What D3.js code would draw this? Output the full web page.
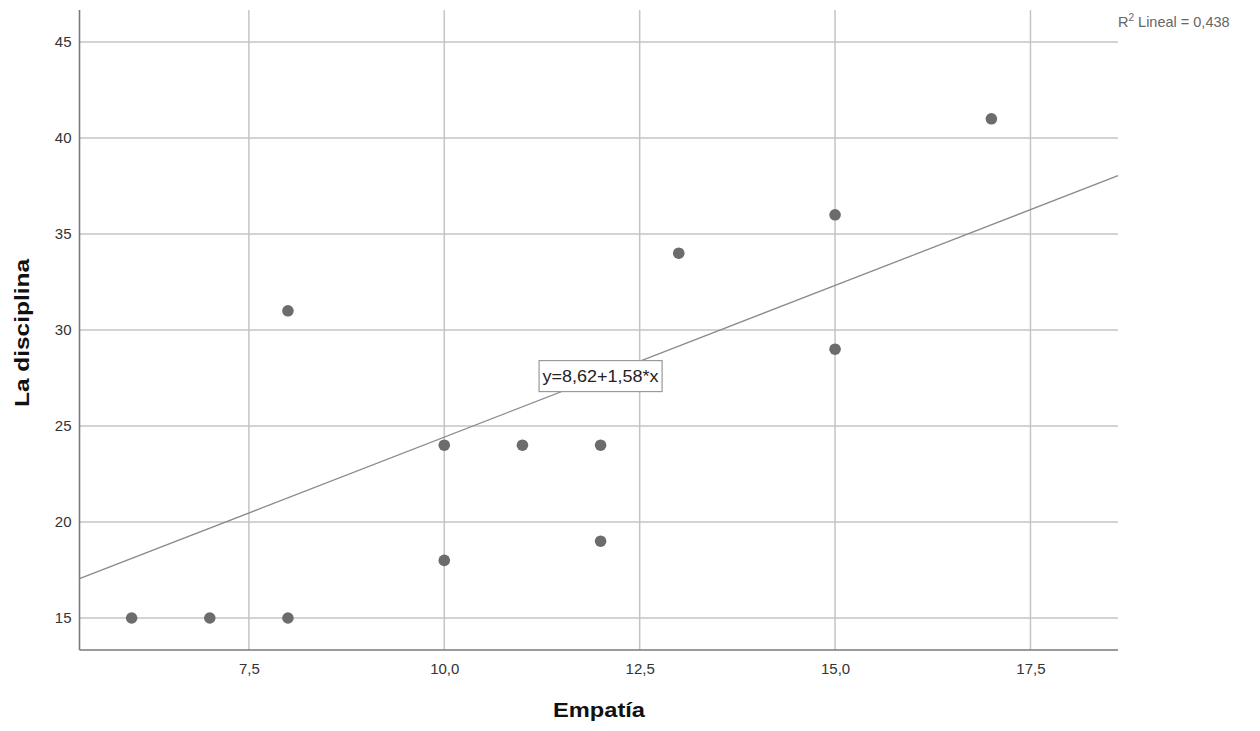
<!DOCTYPE html>
<html><head><meta charset="utf-8">
<script src="https://cdn.jsdelivr.net/npm/d3@7"></script>
<style>body{margin:0;background:#fff;} text{font-family:Arial,"Liberation Sans",sans-serif;}</style>
</head><body><svg id="c" width="1260" height="731"></svg>
<script>
const empatia =    [6, 7, 8, 8, 10, 10, 11, 12, 12, 13, 15, 15, 17];
const disciplina = [15,15,15,31, 24, 18, 24, 24, 19, 34, 36, 29, 41];
const xTicks = [7.5, 10, 12.5, 15, 17.5];
const yTicks = [15, 20, 25, 30, 35, 40, 45];
const intercept = 8.62, slope = 1.58;
const r2Text = "0,438";
const eqText = "y=8,62+1,58*x";

const svg = d3.select("#c");
const L = 79.5, R = 1118, T = 10, B = 650;
const x = d3.scaleLinear().domain([5.333, 18.62]).range([L, R]);
const y = d3.scaleLinear().domain([13.333, 46.667]).range([B, T]);
const fmt = v => d3.format(".1f")(v).replace(".", ",");

// grid
svg.append("g").selectAll("line").data(yTicks).join("line")
  .attr("x1", L).attr("x2", R).attr("y1", d => y(d)).attr("y2", d => y(d))
  .attr("stroke", "#c4c4c4").attr("stroke-width", 1.5);
svg.append("g").selectAll("line").data(xTicks).join("line")
  .attr("y1", T).attr("y2", B).attr("x1", d => x(d)).attr("x2", d => x(d))
  .attr("stroke", "#c4c4c4").attr("stroke-width", 1.5);

// axes
const xa = svg.append("g").attr("transform", `translate(0,${B})`)
  .call(d3.axisBottom(x).tickValues(xTicks).tickSize(0).tickPadding(13).tickFormat(fmt));
const ya = svg.append("g").attr("transform", `translate(${L},0)`)
  .call(d3.axisLeft(y).tickValues(yTicks).tickSize(0).tickPadding(8).tickFormat(d3.format("d")));
[xa, ya].forEach(a => {
  a.select(".domain").attr("stroke", "#7a7a7a").attr("stroke-width", 1.6);
  a.selectAll("text").attr("font-size", 15).attr("fill", "#333").attr("font-family", "Arial, 'Liberation Sans', sans-serif");
});
ya.select(".domain").attr("d", `M0,${T}V${B}`);
xa.select(".domain").attr("d", `M${L},0H${R}`);

// fit line
svg.append("line")
  .attr("x1", x(x.domain()[0])).attr("y1", y(intercept + slope * x.domain()[0]))
  .attr("x2", x(x.domain()[1])).attr("y2", y(intercept + slope * x.domain()[1]))
  .attr("stroke", "#8a8a8a").attr("stroke-width", 1.3);

// points
svg.append("g").selectAll("circle").data(empatia.map((e, i) => [e, disciplina[i]])).join("circle")
  .attr("cx", d => x(d[0])).attr("cy", d => y(d[1])).attr("r", 5.8)
  .attr("fill", "#6c6c6c");

// equation label
const eq = svg.append("g").attr("transform", `translate(${x(12.0)},${y(27.6)})`);
eq.append("rect").attr("x", -61.5).attr("y", -15.5).attr("width", 123).attr("height", 31)
  .attr("fill", "#fff").attr("stroke", "#999").attr("stroke-width", 1.2);
eq.append("text").attr("x", 0).attr("y", 6).attr("text-anchor", "middle")
  .attr("font-size", 17).attr("fill", "#222")
  .attr("textLength", 116).attr("lengthAdjust", "spacingAndGlyphs").text(eqText);

// R2 label
const r2 = svg.append("text").attr("x", 1118).attr("y", 27).attr("font-size", 14.5).attr("fill", "#666");
r2.append("tspan").text("R");
r2.append("tspan").attr("font-size", 10).attr("dy", -6).text("2");
r2.append("tspan").attr("dy", 6).text(" Lineal = " + r2Text);

// axis titles
svg.append("text").attr("x", 599).attr("y", 717).attr("text-anchor", "middle")
  .attr("font-size", 20).attr("font-weight", "bold").attr("fill", "#111")
  .attr("textLength", 92).attr("lengthAdjust", "spacingAndGlyphs").text("Empatía");
svg.append("text").attr("transform", `translate(29,${(T + B) / 2 + 3}) rotate(-90)`).attr("text-anchor", "middle")
  .attr("font-size", 20).attr("font-weight", "bold").attr("fill", "#111")
  .attr("textLength", 148).attr("lengthAdjust", "spacingAndGlyphs").text("La disciplina");
</script></body></html>
